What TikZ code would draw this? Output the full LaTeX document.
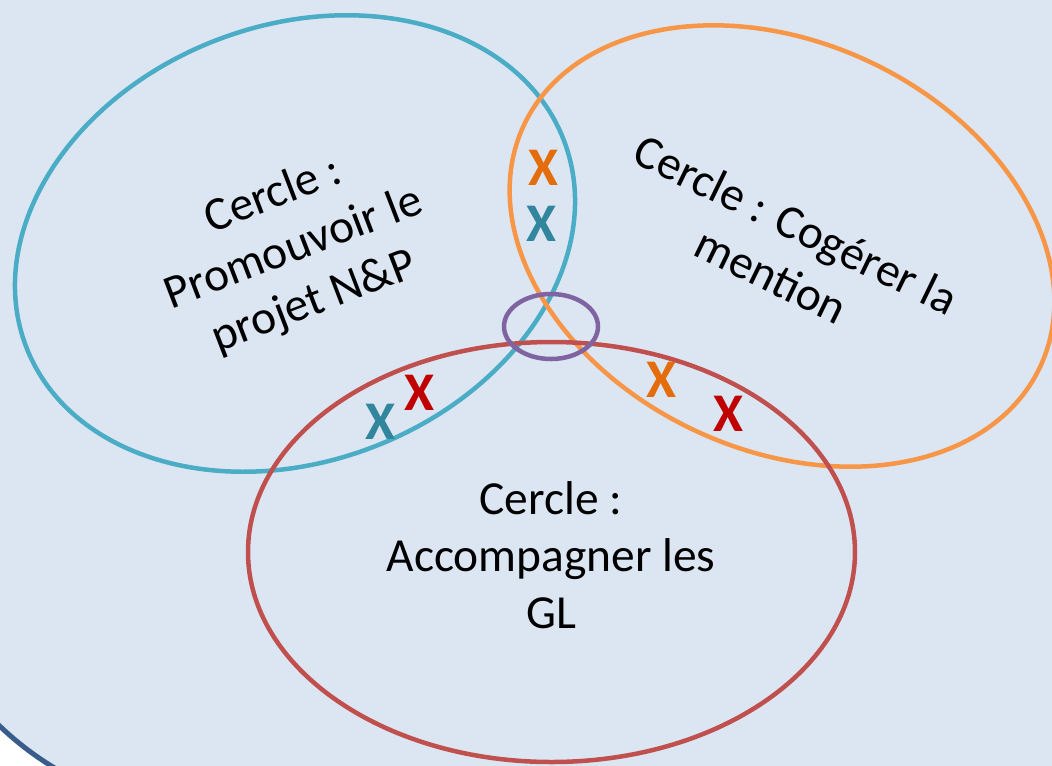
\documentclass[tikz,border=0pt]{standalone}
\usepackage{fontspec}
\setmainfont{Carlito}
\definecolor{slidebg}{HTML}{DCE6F2}
\definecolor{slideline}{HTML}{385D8A}
\definecolor{ringblue}{HTML}{4BACC6}
\definecolor{ringorange}{HTML}{F79646}
\definecolor{ringred}{HTML}{C0504D}
\definecolor{ringviolet}{HTML}{8064A2}
\definecolor{xorange}{HTML}{E46C0A}
\definecolor{xteal}{HTML}{31859C}
\definecolor{xred}{HTML}{C00000}
\tikzset{%
  ring/.style   = {line width=0.09cm},%
  label/.style  = {font=\fontsize{27}{32.4}\selectfont, align=center, inner sep=0pt},%
  xsign/.style  = {font=\fontsize{31}{32}\selectfont\bfseries, inner sep=0pt}%
}

\begin{document}
\begin{tikzpicture}
[x=0.02cm,y=-0.02cm]
	\useasboundingbox (0,0) rectangle (1052,765);
	\clip (0,0) rectangle (1052,765);
	\fill [white] (0,0) rectangle (1052,765);
	\draw [slideline, fill=slidebg, line width=0.1cm, rounded corners=6.2cm] (-96,-400) rectangle (1400,812);
	% centres of the three circles and of their common part
	\coordinate (promo) at (295,243.5);
	\coordinate (coge) at (782,246);
	\coordinate (accomp) at (551.5,552);
	\coordinate (core) at (551,326.5);
	\draw [ring, ringblue, rotate around={21:(promo)}] (promo) ellipse [x radius=288, y radius=218];
	\draw [ring, ringorange, rotate around={-25:(coge)}] (coge) ellipse [x radius=285, y radius=204];
	\draw [ring, ringred] (accomp) ellipse [x radius=303.5, y radius=210];
	\draw [ring, ringviolet] (core) ellipse [x radius=47, y radius=32.5];
	% names of the circles
	\node [label, rotate=21] (promotxt) at (294,249) {Cercle :\\Promouvoir le\\projet N\&P};
	\node [label, rotate=-26] (cogetxt) at (784,250) {Cercle : Cogérer la\\mention};
	\node [label] (accomptxt) at (551,555) {Cercle :\\Accompagner les\\GL};
	% crosses on the shared parts
	\node [xsign, xorange] (xtop) at (543,168) {X};
	\node [xsign, xteal] (xmid) at (541,224) {X};
	\node [xsign, xteal] (xleft) at (380,422) {X};
	\node [xsign, xred] (xleftr) at (419,393) {X};
	\node [xsign, xorange] (xright) at (661,380) {X};
	\node [xsign, xred] (xrightr) at (728,414) {X};
\end{tikzpicture}
\end{document}
